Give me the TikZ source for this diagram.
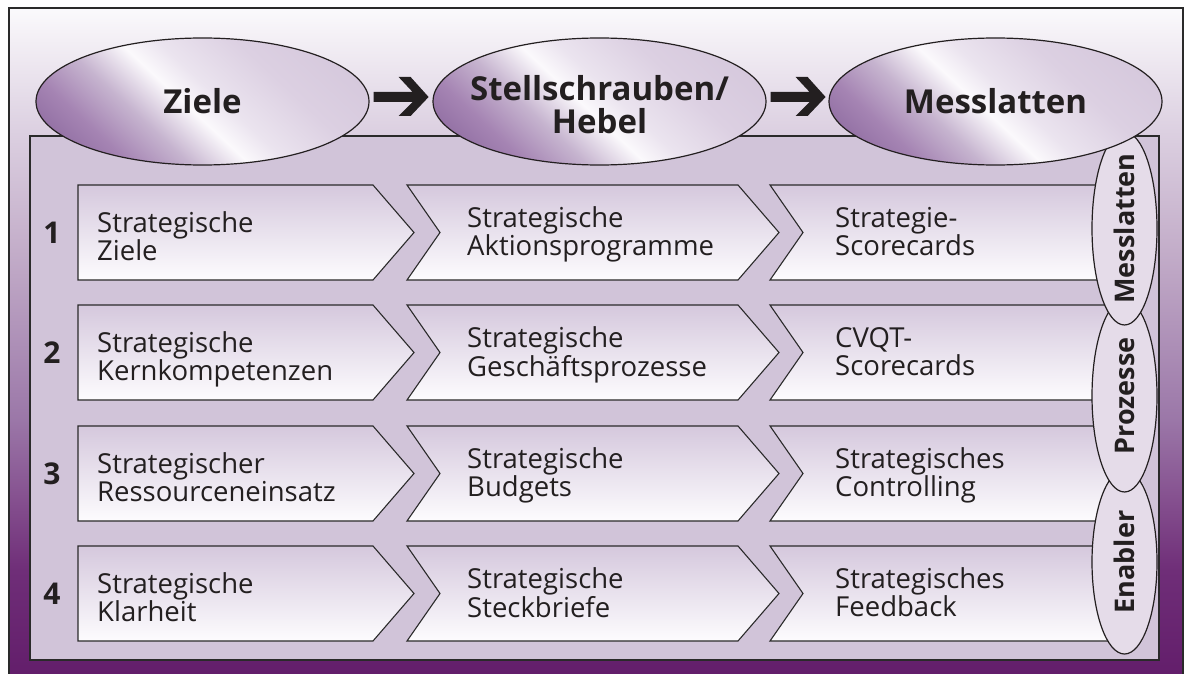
\documentclass[tikz,border=0pt]{standalone}
\usepackage{fontspec}
\setmainfont{Open Sans}
\usetikzlibrary{shapes.geometric}

% palette
\definecolor{txt}{HTML}{231F20}
\definecolor{edge}{HTML}{2A2A2A}
\definecolor{panel}{HTML}{D1C4D9}
\definecolor{boxtop}{HTML}{D5C8DD}
\definecolor{boxbot}{HTML}{FDFCFE}
\definecolor{sidefill}{HTML}{E5DCE9}
% backdrop gradient, bottom to top
\definecolor{bgF}{HTML}{631E6B}
\definecolor{bgE}{HTML}{6F2E78}
\definecolor{bgD}{HTML}{85508F}
\definecolor{bgC}{HTML}{9B77A8}
\definecolor{bgB}{HTML}{C3ADC9}
\definecolor{bgA}{HTML}{DCD0E1}
\definecolor{bgTop}{HTML}{FBFAFC}
% glossy ellipse gradient
\definecolor{shA}{HTML}{9573A6}
\definecolor{shB}{HTML}{A584B3}
\definecolor{shC}{HTML}{C6B4CF}
\definecolor{shD}{HTML}{FBF9FC}
\definecolor{shE}{HTML}{EBE4EF}
\definecolor{shF}{HTML}{DCD0E2}
\definecolor{shG}{HTML}{D6C9DD}

\pgfdeclareverticalshading{backdrop}{100bp}{color(0bp)=(bgF); color(25bp)=(bgF);
  color(32.8bp)=(bgE); color(38.1bp)=(bgD); color(44.1bp)=(bgC); color(56.8bp)=(bgB);
  color(65.8bp)=(bgA); color(75bp)=(bgTop); color(100bp)=(bgTop)}
\pgfdeclarehorizontalshading{shine}{100bp}{color(0bp)=(shA); color(32bp)=(shA);
  color(36bp)=(shB); color(42bp)=(shC); color(48bp)=(shD); color(52bp)=(shE);
  color(60bp)=(shF); color(68bp)=(shG); color(100bp)=(shG)}

\newcommand\twolines[2]{\begin{tabular}[t]{@{}l@{}}#1\\#2\end{tabular}}

\tikzset{
  chev/.style={draw=edge, line width=1.1pt, top color=boxtop, bottom color=boxbot},
  boxtxt/.style={anchor=base west, inner sep=0pt, text=txt, font=\fontsize{27.5}{27}\selectfont},
  numtxt/.style={anchor=base, inner sep=0pt, text=txt, font=\fontsize{30}{30}\selectfont\bfseries},
  headell/.style={ellipse, draw=txt, line width=1.2pt, minimum width=333pt, minimum height=127pt, inner sep=0pt,
    path picture={\shade[shading=shine, shading angle=47]
      ([shift={(-170,-170)}]path picture bounding box.center) rectangle
      ([shift={(170,170)}]path picture bounding box.center);}},
  headtxt/.style={align=center, inner sep=0pt, text=txt, font=\fontsize{33}{33}\selectfont\bfseries},
  sideell/.style={ellipse, draw=txt, line width=1.2pt, fill=sidefill, minimum width=65pt, inner sep=0pt},
  sidetxt/.style={rotate=90, inner sep=0pt, text=txt, font=\fontsize{27}{27}\selectfont\bfseries},
  blockarrow/.style={fill=txt}
}

% chevron boxes of the three columns, argument = top edge of the row
\newcommand\chevFirst[1]{\path[chev] (78,#1) -- (373,#1) -- (414,#1+47.5) -- (373,#1+95) -- (78,#1+95) -- cycle;}
\newcommand\chevMid[1]{\path[chev] (407,#1) -- (738,#1) -- (779,#1+47.5) -- (738,#1+95) -- (407,#1+95) -- (440,#1+47.5) -- cycle;}
\newcommand\chevLast[1]{\path[chev] (770,#1) -- (1110,#1) -- (1110,#1+95) -- (770,#1+95) -- (803,#1+47.5) -- cycle;}

\begin{document}
\begin{tikzpicture}[x=1pt, y=-1pt]
\useasboundingbox (0,0) rectangle (1189,674);

% backdrop and frame
\shade[shading=backdrop] (9,8) rectangle (1183,674);
\draw[edge, line width=1.2pt] (9,680) -- (9,8) -- (1183,8) -- (1183,680);

% inner panel
\draw[edge, line width=1.1pt, fill=panel] (30,136) rectangle (1159,660);

% rows of chevrons
\chevFirst{185}\chevMid{185}\chevLast{185}
\chevFirst{305}\chevMid{305}\chevLast{305}
\chevFirst{426}\chevMid{426}\chevLast{426}
\chevFirst{546}\chevMid{546}\chevLast{546}

% row numbers
\node[numtxt] (n1) at (52,243) {1};
\node[numtxt] (n2) at (52,363) {2};
\node[numtxt] (n3) at (52,484) {3};
\node[numtxt] (n4) at (52,604) {4};

% row 1
\node[boxtxt] (r1a) at (97,232) {\twolines{Strategische}{Ziele}};
\node[boxtxt] (r1b) at (467,227) {\twolines{Strategische}{Aktionsprogramme}};
\node[boxtxt] (r1c) at (835,227) {\twolines{Strategie-}{Scorecards}};
% row 2
\node[boxtxt] (r2a) at (97,352) {\twolines{Strategische}{Kernkompetenzen}};
\node[boxtxt] (r2b) at (467,347) {\twolines{Strategische}{Geschäftsprozesse}};
\node[boxtxt] (r2c) at (835,347) {\twolines{CVQT-}{Scorecards}};
% row 3
\node[boxtxt] (r3a) at (97,473) {\twolines{Strategischer}{Ressourceneinsatz}};
\node[boxtxt] (r3b) at (467,468) {\twolines{Strategische}{Budgets}};
\node[boxtxt] (r3c) at (835,468) {\twolines{Strategisches}{Controlling}};
% row 4
\node[boxtxt] (r4a) at (97,593) {\twolines{Strategische}{Klarheit}};
\node[boxtxt] (r4b) at (467,588) {\twolines{Strategische}{Steckbriefe}};
\node[boxtxt] (r4c) at (835,588) {\twolines{Strategisches}{Feedback}};

% side ellipses, lowest first so the upper one overlaps
\node[sideell, minimum height=184pt] (sEn) at (1124.5,562) {};
\node[sidetxt] (lEn) at (sEn.center) {Enabler};
\node[sideell, minimum height=192pt] (sPr) at (1124.5,396) {};
\node[sidetxt] (lPr) at (sPr.center) {Prozesse};
\node[sideell, minimum height=193pt] (sMe) at (1124.5,228.5) {};
\node[sidetxt] (lMe) at (sMe.center) {Messlatten};

% headline ellipses
\node[headell] (hZ) at (202.5,101.5) {};
\node[headtxt] (lZ) at (hZ.center) {Ziele};
\node[headell] (hS) at (599.5,101.5) {};
\node[headtxt] (lS) at ([yshift=-3]hS.center) {Stellschrauben/\\Hebel};
\node[headell] (hM) at (995.5,101.5) {};
\node[headtxt] (lM) at (hM.center) {Messlatten};

% block arrows between the headline ellipses
\path[blockarrow, shift={(hZ.east)}, shift={(4,-4.5)}]
  (0,-5) -- (39,-5) -- (25,-20) -- (37,-20) -- (55,0) -- (37,19) -- (25,19) -- (39,5) -- (0,5) -- cycle;
\path[blockarrow, shift={(hS.east)}, shift={(4,-4.5)}]
  (0,-5) -- (39,-5) -- (25,-20) -- (37,-20) -- (55,0) -- (37,19) -- (25,19) -- (39,5) -- (0,5) -- cycle;
\end{tikzpicture}
\end{document}
